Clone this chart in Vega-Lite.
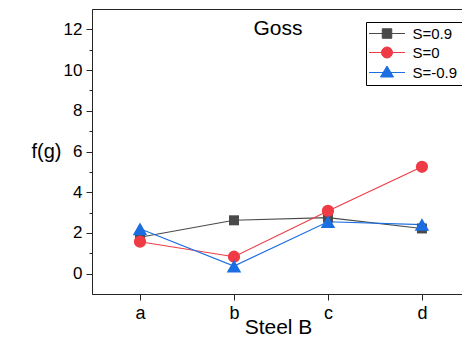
{
  "$schema": "https://vega.github.io/schema/vega-lite/v6.json",
  "width": 372,
  "height": 285,
  "autosize": {"type": "none"},
  "padding": {"left": 92, "top": 9, "right": 0, "bottom": 46},
  "background": "white",
  "config": {"font": "Liberation Sans", "view": {"stroke": "#262626", "strokeWidth": 1}},
  "title": {"text": "Goss", "fontSize": 21, "fontWeight": "normal", "color": "#000", "offset": -30, "anchor": "middle", "frame": "group"},
  "data": {"values": [
    {"steel": "a", "S": "S=0.9", "f": 1.79},
    {"steel": "b", "S": "S=0.9", "f": 2.62},
    {"steel": "c", "S": "S=0.9", "f": 2.75},
    {"steel": "d", "S": "S=0.9", "f": 2.22},
    {"steel": "a", "S": "S=0", "f": 1.57},
    {"steel": "b", "S": "S=0", "f": 0.83},
    {"steel": "c", "S": "S=0", "f": 3.08},
    {"steel": "d", "S": "S=0", "f": 5.25},
    {"steel": "a", "S": "S=-0.9", "f": 2.2},
    {"steel": "b", "S": "S=-0.9", "f": 0.37},
    {"steel": "c", "S": "S=-0.9", "f": 2.55},
    {"steel": "d", "S": "S=-0.9", "f": 2.41}
  ]},
  "encoding": {
    "x": {"field": "steel", "type": "nominal", "sort": ["a", "b", "c", "d"],
      "scale": {"type": "point", "padding": 0.479, "align": 0.533},
      "axis": {"title": "Steel B", "titleFontSize": 21, "titleFontWeight": "normal", "titleColor": "#000", "titleY": 39, "titleBaseline": "alphabetic",
        "labelAngle": 0, "labelFontSize": 18, "labelColor": "#000", "labelPadding": 4, "tickSize": 6, "domainColor": "#262626", "tickColor": "#262626", "grid": false}},
    "y": {"field": "f", "type": "quantitative",
      "scale": {"domain": [-1, 13], "nice": false, "zero": false},
      "axis": {"title": "f(g)", "titleAngle": 0, "titleX": -46, "titleY": 148, "titleAlign": "center", "titleBaseline": "alphabetic", "titleFontSize": 20, "titleFontWeight": "normal", "titleColor": "#000",
        "values": [0, 1, 2, 3, 4, 5, 6, 7, 8, 9, 10, 11, 12],
        "labelExpr": "datum.value % 2 === 0 ? datum.label : ''",
        "tickSize": {"condition": {"test": "datum.value % 2 === 0", "value": 6}, "value": 3},
        "labelFontSize": 17, "labelColor": "#000", "labelPadding": 4, "labelFlush": false, "labelOverlap": false,
        "grid": false, "domainColor": "#262626", "tickColor": "#262626"}},
    "color": {"field": "S", "type": "nominal",
      "scale": {"domain": ["S=0.9", "S=0", "S=-0.9"], "range": ["#4a4a4a", "#ef3b45", "#1b6ee2"]},
      "legend": {"orient": "none", "legendX": 274, "legendY": 13, "title": null,
        "labelFontSize": 15, "labelColor": "#000", "strokeColor": "#000", "fillColor": "#fff",
        "padding": 4, "symbolOffset": 9.5, "labelOffset": 18, "rowPadding": 3, "symbolSize": 100,
        "encode": {"symbols": {"update": {
          "shape": {"signal": "datum.value === 'S=0.9' ? 'M-3.6,0H3.6M-0.95,-0.95H0.95V0.95H-0.95Z' : datum.value === 'S=0' ? 'M-3.6,0H3.6M1.1,0A1.1,1.1,0,1,1,-1.1,0A1.1,1.1,0,1,1,1.1,0Z' : 'M-3.6,0H3.6M0,-1.3L1.3,0.9L-1.3,0.9Z'"},
          "fill": {"signal": "datum.value === 'S=0.9' ? '#4a4a4a' : datum.value === 'S=0' ? '#ef3b45' : '#1b6ee2'"},
          "stroke": {"signal": "datum.value === 'S=0.9' ? '#4a4a4a' : datum.value === 'S=0' ? '#ef3b45' : '#1b6ee2'"},
          "strokeWidth": {"value": 1},
          "size": {"value": 100},
          "opacity": {"value": 1}
        }}}
      }
    }
  },
  "layer": [
    {"mark": {"type": "line", "strokeWidth": 1.1}},
    {"mark": {"type": "point", "filled": true, "opacity": 1},
      "encoding": {
        "shape": {"condition": [{"test": "datum.S === 'S=0.9'", "value": "square"}, {"test": "datum.S === 'S=0'", "value": "circle"}], "value": "triangle-up"},
        "size": {"condition": [{"test": "datum.S === 'S=0.9'", "value": 100}, {"test": "datum.S === 'S=0'", "value": 150}], "value": 210}
      }}
  ]
}
